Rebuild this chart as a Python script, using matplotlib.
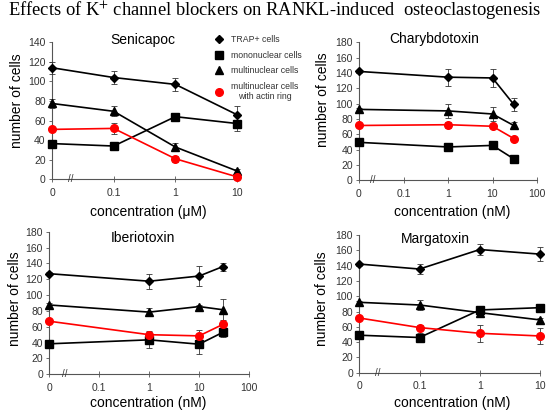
import matplotlib
matplotlib.use('Agg')
import matplotlib.pyplot as plt
from matplotlib.lines import Line2D
from matplotlib.ticker import NullLocator
import matplotlib.transforms as mtransforms

plt.rcParams['font.family'] = ['Liberation Sans', 'DejaVu Sans']
plt.rcParams['mathtext.fontset'] = 'stix'

# concentrations (0 = control, shown one decade left of 0.1 on the log axis)
conc_seni = [0, 0.1, 1, 10]        # uM
conc_chary = [0, 1, 10, 30]        # nM
conc_iberio = [0, 1, 10, 30]       # nM
conc_marga = [0, 0.1, 1, 10]       # nM

series_labels = ['TRAP+ cells', 'mononuclear cells', 'multinuclear cells',
                 'multinuclear cells\nwith actin ring']

# Senicapoc
seni_trap = [114, 104, 97, 66]
seni_trap_err = [6, 7, 7, 9]
seni_mono = [36.5, 34, 64, 57]
seni_mono_err = [2, 1, 4, 8]
seni_multi = [77.5, 69.5, 33, 8.5]
seni_multi_err = [5, 5, 4, 2]
seni_actin = [51, 52, 21, 2.5]
seni_actin_err = [2, 6, 3, 1]

# Charybdotoxin
chary_trap = [142, 134.5, 133.5, 99]
chary_trap_err = [2, 11, 12, 8.5]
chary_mono = [49.5, 43.5, 45.5, 28]
chary_mono_err = [2, 3, 2, 2]
chary_multi = [92.5, 90.5, 86.5, 71.5]
chary_multi_err = [2, 9, 9, 4]
chary_actin = [71.5, 72.5, 70.5, 54.5]
chary_actin_err = [2, 4, 2, 2]

# Iberiotoxin
iberio_trap = [127, 117.5, 124, 136]
iberio_trap_err = [2, 9.5, 12.5, 5]
iberio_mono = [38.5, 43.5, 38, 53]
iberio_mono_err = [2, 10, 12, 6]
iberio_multi = [87.5, 78.5, 85.5, 81.5]
iberio_multi_err = [2, 5, 2, 13]
iberio_actin = [67, 50, 48.5, 63]
iberio_actin_err = [2, 5, 7, 2]

# Margatoxin
marga_trap = [142, 135.5, 161, 155]
marga_trap_err = [2, 6, 7, 9]
marga_mono = [49, 46, 82, 85]
marga_mono_err = [2, 6, 4, 2]
marga_multi = [92, 88.5, 78.5, 69]
marga_multi_err = [2, 6, 2, 3]
marga_actin = [71.5, 59, 51.5, 48]
marga_actin_err = [2, 3, 11, 10]

styles = [('D', 4.0, 'black'), ('s', 5.5, 'black'), ('^', 5.5, 'black'), ('o', 5.5, '#ff0000')]

W, H = 547, 411
fig = plt.figure(figsize=(W / 100, H / 100), dpi=100)


def px_axes(left, right, top, bottom):
    return fig.add_axes((left / W, 1 - bottom / H, (right - left) / W, (bottom - top) / H))


def draw_panel(ax, conc, data, xmax, ymax):
    x = [c if c > 0 else 0.01 for c in conc]
    for (vals, errs), (mk, ms, col) in zip(data, styles):
        ax.errorbar(x, vals, yerr=errs, color=col, ecolor='#333333', marker=mk, ms=ms,
                    lw=1.2, elinewidth=0.6, capsize=2, capthick=0.6, clip_on=False, zorder=3)
    ax.set_xscale('log')
    ax.set_xlim(0.01, xmax)
    ticks = [t for t in [0.01, 0.1, 1, 10, 100] if t <= xmax]
    ax.set_xticks(ticks)
    ax.set_xticklabels(['0' if t == 0.01 else ('%g' % t) for t in ticks])
    ax.xaxis.set_minor_locator(NullLocator())
    ax.set_ylim(0, ymax)
    ax.set_yticks(range(0, ymax + 1, 20))
    for s in ['top', 'right']:
        ax.spines[s].set_visible(False)
    for s in ['left', 'bottom']:
        ax.spines[s].set_color('#555555')
        ax.spines[s].set_linewidth(0.8)
    ax.tick_params(axis='x', direction='inout', length=4, width=0.6, color='#555555',
                   labelsize=7.5, labelcolor='#333333', pad=4)
    ax.tick_params(axis='y', direction='out', length=2.5, width=0.6, color='#555555',
                   labelsize=7.5, labelcolor='#333333', pad=2)
    trans = mtransforms.blended_transform_factory(ax.transData, ax.transAxes)
    ax.text(0.02, 0, '//', transform=trans, ha='center', va='center', fontsize=7,
            color='#333333', clip_on=False)


ax1 = px_axes(52, 237, 42.3, 179.3)
draw_panel(ax1, conc_seni, [(seni_trap, seni_trap_err), (seni_mono, seni_mono_err),
                            (seni_multi, seni_multi_err), (seni_actin, seni_actin_err)],
           10, 140)
ax2 = px_axes(359, 537, 42.3, 180.3)
draw_panel(ax2, conc_chary, [(chary_trap, chary_trap_err), (chary_mono, chary_mono_err),
                             (chary_multi, chary_multi_err), (chary_actin, chary_actin_err)],
           100, 180)
ax3 = px_axes(49.3, 249, 231.7, 374.3)
draw_panel(ax3, conc_iberio, [(iberio_trap, iberio_trap_err), (iberio_mono, iberio_mono_err),
                              (iberio_multi, iberio_multi_err), (iberio_actin, iberio_actin_err)],
           100, 180)
ax4 = px_axes(359.3, 540, 235, 372.7)
draw_panel(ax4, conc_marga, [(marga_trap, marga_trap_err), (marga_mono, marga_mono_err),
                             (marga_multi, marga_multi_err), (marga_actin, marga_actin_err)],
           10, 180)

# panel titles and axis labels (pixel positions)
def ftext(x, y, s, **kw):
    fig.text(x / W, 1 - y / H, s, ha='center', va='center', **kw)

ftext(143, 40, 'Senicapoc', fontsize=10)
ftext(434, 39.5, 'Charybdotoxin', fontsize=10)
ftext(142.5, 238, 'Iberiotoxin', fontsize=10)
ftext(435.5, 238.5, 'Margatoxin', fontsize=10)

for x, y in [(17, 101), (323, 100), (15, 299), (322, 299)]:
    ftext(x, y, 'number of cells', fontsize=10, rotation=90)
ftext(148, 212, 'concentration (μM)', fontsize=10)
ftext(452, 212, 'concentration (nM)', fontsize=10)
ftext(148, 403, 'concentration (nM)', fontsize=10)
ftext(452, 403, 'concentration (nM)', fontsize=10)

ftext(275, 10, 'Effects of K$^{+}$ channel blockers on RANKL-induced  osteoclastogenesis',
      fontsize=13.3, family='Liberation Serif')

handles = [Line2D([], [], linestyle='none', marker=mk, ms=ms, color=col) for mk, ms, col in styles]
leg = fig.legend(handles, series_labels, loc='upper left', bbox_to_anchor=(215 / W, 1 - 35 / H),
                 frameon=False, fontsize=6.3, handlelength=1.0, handletextpad=0.8,
                 labelspacing=0.75, borderpad=0, borderaxespad=0)
for t in leg.get_texts():
    t.set_color('#333333')
    t.set_multialignment('center')

fig.savefig('out.png', dpi=100)
